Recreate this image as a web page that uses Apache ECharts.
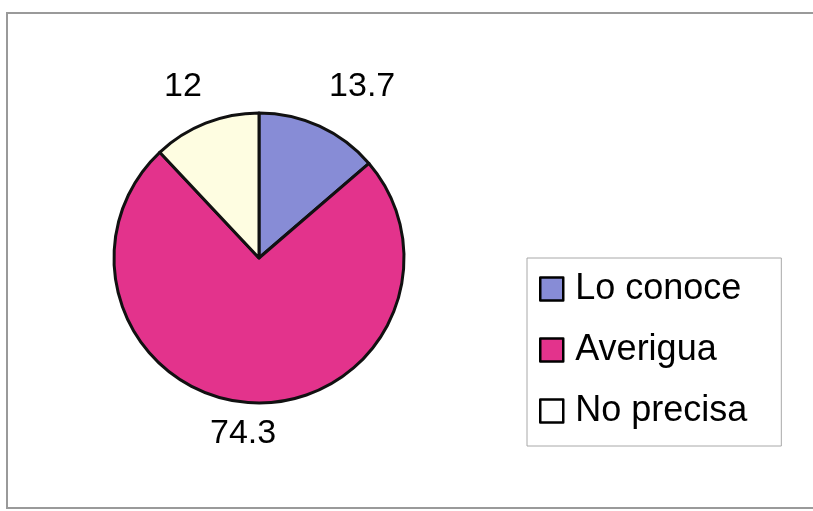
<!DOCTYPE html>
<html>
<head>
<meta charset="utf-8">
<script src="https://cdn.jsdelivr.net/npm/echarts@6/dist/echarts.min.js"></script>
<style>html,body{margin:0;padding:0;background:#fff}#c{width:813px;height:511px}</style>
</head>
<body>
<div id="c"></div>
<script>
const categories = ['Lo conoce', 'Averigua', 'No precisa'];
const values = [13.7, 74.3, 12];
const valueLabels = ['13.7', '74.3', '12'];

const colors = ['#878cd6', '#e3338c', '#fefde1'];
const legendColors = ['#878cd6', '#e3338c', '#ffffff'];
const CX = 259, CY = 258, R = 145;
const LABEL_R = 185;
const labelNudge = [[26, -3], [-6, -9], [-8, 1]];

const total = values.reduce((a, b) => a + b, 0);
const midAngles = [];
let acc = 0;
values.forEach(v => { midAngles.push((acc + v / 2) / total * 2 * Math.PI); acc += v; });

const chart = echarts.init(document.getElementById('c'));
chart.setOption({
  animation: false,
  backgroundColor: '#fff',
  graphic: [{
    type: 'rect', silent: true, z: -1,
    shape: { x: 7, y: 13, width: 830, height: 495 },
    style: { fill: 'none', stroke: '#9a9a9a', lineWidth: 2 }
  }],
  legend: {
    orient: 'vertical',
    left: 527, top: 258,
    padding: [11, 34, 15, 12],
    borderColor: '#a8a8a8', borderWidth: 1,
    icon: 'rect',
    itemWidth: 23, itemHeight: 23,
    itemGap: 21,
    textStyle: { fontFamily: 'Liberation Sans, Arial, sans-serif', fontSize: 36, color: '#000', lineHeight: 40, padding: [0, 0, 0, 7] },
    data: categories.map((n, i) => ({ name: n, itemStyle: { color: legendColors[i], borderColor: '#000', borderWidth: 2.5 } }))
  },
  series: [{
    type: 'pie',
    center: [CX, CY],
    radius: R,
    startAngle: 90,
    clockwise: true,
    data: categories.map((n, i) => ({ name: n, value: values[i], itemStyle: { color: colors[i] } })),
    itemStyle: { borderColor: '#111', borderWidth: 3 },
    label: {
      show: true,
      position: 'outside',
      formatter: p => valueLabels[p.dataIndex],
      fontFamily: 'Liberation Sans, Arial, sans-serif',
      fontSize: 34,
      color: '#000'
    },
    labelLine: { show: false },
    labelLayout: function (p) {
      const i = p.dataIndex;
      const a = midAngles[i];
      return {
        x: CX + LABEL_R * Math.sin(a) + labelNudge[i][0],
        y: CY - LABEL_R * Math.cos(a) + labelNudge[i][1],
        align: 'center',
        verticalAlign: 'middle'
      };
    },
    emphasis: { disabled: true }
  }]
});
</script>
</body>
</html>
